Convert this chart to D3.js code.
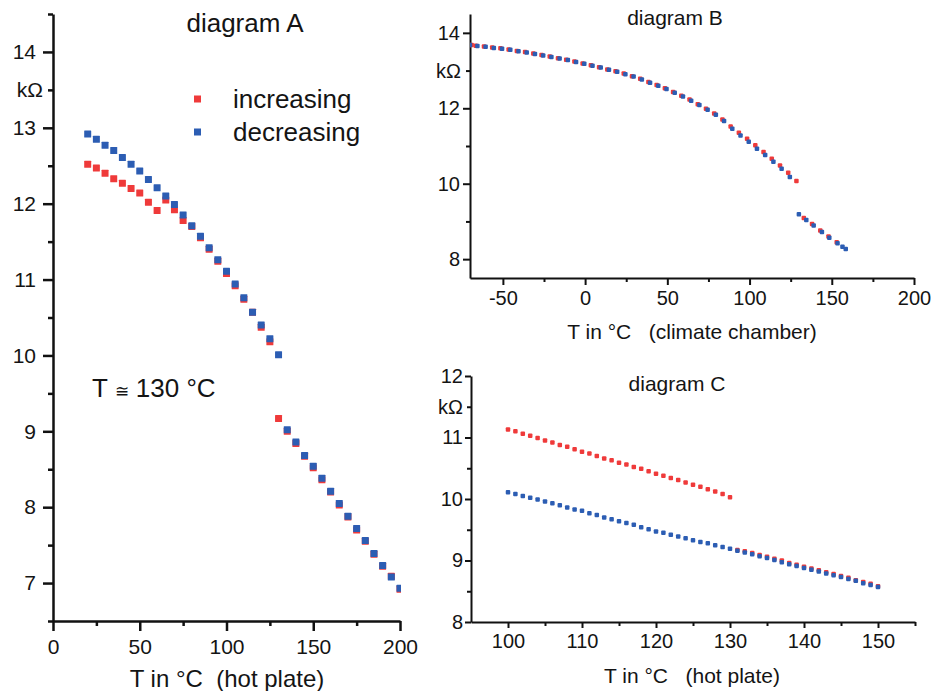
<!DOCTYPE html>
<html>
<head>
<meta charset="utf-8">
<script src="https://cdn.jsdelivr.net/npm/d3@7"></script>
<style>
  body { margin: 0; background: #fff; }
  svg { display: block; }
  text { font-family: "Liberation Sans", Arial, sans-serif; fill: #141414; }
</style>
</head>
<body>
<div id="chart"></div>
<script>
// ---- diagram A (hot plate, 5 K steps) ----
const aTemp = [20, 25, 30, 35, 40, 45, 50, 55, 60, 65, 70, 75, 80, 85, 90, 95, 100, 105, 110, 115, 120, 125,
    130, 135, 140, 145, 150, 155, 160, 165, 170, 175, 180, 185, 190, 195, 200]
const aInc = [12.52, 12.47, 12.40, 12.33, 12.27, 12.20, 12.14, 12.02, 11.91, 12.05, 11.92, 11.78, 11.70, 11.55,
    11.40, 11.24, 11.08, 10.92, 10.74, 10.57, 10.37, 10.18,
    9.17, 9.00, 8.84, 8.67, 8.52, 8.36, 8.20, 8.03, 7.87, 7.70, 7.55, 7.38, 7.22, 7.09, 6.92]
const aDec = [12.92, 12.85, 12.77, 12.70, 12.61, 12.52, 12.43, 12.32, 12.21, 12.10, 11.99, 11.85, 11.71, 11.57,
    11.42, 11.26, 11.11, 10.94, 10.76, 10.57, 10.40, 10.22,
    10.01, 9.02, 8.86, 8.68, 8.54, 8.38, 8.21, 8.05, 7.88, 7.72, 7.56, 7.39, 7.23, 7.08, 6.93]

// ---- diagram B (climate chamber) ----
const bIncT = [-69, -66.5, -61.5, -56.5, -51.5, -46.5, -41.5, -36.5, -31.5, -26.5, -21.5, -16.5, -11.5, -6.5, -1.5,
    3.5, 8.5, 13.5, 18.5, 23.5, 28.5, 33.5, 38.5, 43.5, 48.5, 53.5, 58.5, 63.5, 68.5, 73.5, 78.5, 83.5, 88.5,
    93.5, 98.5, 103.5, 108.5, 113.5, 118.5, 123.5, 128.5,
    133, 138, 143, 148, 153]
const bIncR = [13.68, 13.66, 13.64, 13.61, 13.59, 13.56, 13.52, 13.49, 13.45, 13.41, 13.37, 13.33, 13.29, 13.24, 13.19,
    13.14, 13.09, 13.03, 12.98, 12.92, 12.85, 12.78, 12.70, 12.62, 12.53, 12.43, 12.33, 12.23, 12.11, 11.99, 11.86, 11.70, 11.52,
    11.35, 11.19, 11.02, 10.84, 10.66, 10.48, 10.29, 10.07,
    9.09, 8.93, 8.76, 8.60, 8.45]
const bDecT = [-70, -65.5, -60.5, -55.5, -50.5, -45.5, -40.5, -35.5, -30.5, -25.5, -20.5, -15.5, -10.5, -5.5, -0.5,
    4.5, 9.5, 14.5, 19.5, 24.5, 29.5, 34.5, 39.5, 44.5, 49.5, 54.5, 59.5, 64.5, 69.5, 74.5, 79.5, 84.5, 89.5,
    94.5, 99.5, 104.5, 109.5, 114.5, 119.5, 124.5,
    130, 134.5, 139, 144, 148.5, 153.5, 156.5, 158.5]
const bDecR = [13.68, 13.65, 13.63, 13.60, 13.58, 13.55, 13.51, 13.48, 13.44, 13.40, 13.36, 13.32, 13.28, 13.23, 13.18,
    13.13, 13.08, 13.02, 12.97, 12.90, 12.84, 12.76, 12.68, 12.60, 12.51, 12.41, 12.31, 12.20, 12.09, 11.96, 11.83, 11.66, 11.46,
    11.28, 11.11, 10.93, 10.76, 10.58, 10.40, 10.18,
    9.19, 9.04, 8.89, 8.72, 8.57, 8.42, 8.33, 8.27]

// ---- diagram C (hot plate, 1 K steps) ----
const cIncT = [100, 101, 102, 103, 104, 105, 106, 107, 108, 109, 110, 111, 112, 113, 114, 115, 116, 117, 118, 119, 120,
    121, 122, 123, 124, 125, 126, 127, 128, 129, 130,
    131, 132, 133, 134, 135, 136, 137, 138, 139, 140, 141, 142, 143, 144, 145, 146, 147, 148, 149, 150]
const cIncR = [11.13, 11.10, 11.06, 11.03, 10.99, 10.95, 10.92, 10.88, 10.85, 10.81, 10.77, 10.74, 10.70, 10.66, 10.63,
    10.59, 10.56, 10.52, 10.49, 10.45, 10.41, 10.38, 10.34, 10.31, 10.27, 10.23, 10.20, 10.16, 10.12, 10.08, 10.03,
    9.17, 9.15, 9.12, 9.09, 9.06, 9.03, 9.00, 8.96, 8.93, 8.90, 8.87, 8.84, 8.81, 8.78, 8.75, 8.72, 8.68, 8.65, 8.62, 8.58]
const cDecT = [100, 101, 102, 103, 104, 105, 106, 107, 108, 109, 110, 111, 112, 113, 114, 115, 116, 117, 118, 119, 120,
    121, 122, 123, 124, 125, 126, 127, 128, 129, 130, 131, 132, 133, 134, 135, 136, 137, 138, 139, 140,
    141, 142, 143, 144, 145, 146, 147, 148, 149, 150]
const cDecR = [10.11, 10.08, 10.05, 10.02, 9.99, 9.96, 9.93, 9.90, 9.86, 9.83, 9.81, 9.77, 9.74, 9.70, 9.67, 9.64,
    9.61, 9.58, 9.54, 9.51, 9.47, 9.45, 9.42, 9.39, 9.36, 9.33, 9.30, 9.28, 9.25, 9.22, 9.19, 9.16, 9.13, 9.10,
    9.07, 9.04, 9.01, 8.97, 8.94, 8.91, 8.88, 8.85, 8.82, 8.79, 8.76, 8.73, 8.70, 8.67, 8.63, 8.60, 8.57]

const red = "#ef3a3a"
const blue = "#2c5db3"

const w = 936
const h = 691

const svg = d3.select("#chart")
    .append("svg")
    .attr("width", w)
    .attr("height", h)

// plain integers with an ASCII hyphen, as on the original
const fmt = d => String(d)

function panel(o) {
    const x = d3.scaleLinear().domain(o.xDom).range(o.xRange)
    const y = d3.scaleLinear().domain(o.yDom).range(o.yRange)
    const g = svg.append("g")

    // minor ticks first (no labels, no domain line)
    const xm = g.append("g")
        .attr("transform", `translate(0,${o.yRange[0]})`)
        .call(d3.axisBottom(x).tickValues(o.xMinor).tickSize(o.minor).tickFormat(""))
    const ym = g.append("g")
        .attr("transform", `translate(${o.xRange[0]},0)`)
        .call(d3.axisLeft(y).tickValues(o.yMinor).tickSize(o.minor).tickFormat(""))
    xm.select(".domain").remove()
    ym.select(".domain").remove()

    g.append("g")
        .attr("transform", `translate(0,${o.yRange[0]})`)
        .call(d3.axisBottom(x).tickValues(o.xTicks).tickFormat(fmt)
            .tickSize(o.major).tickSizeOuter(0).tickPadding(o.xPad))
    g.append("g")
        .attr("transform", `translate(${o.xRange[0]},0)`)
        .call(d3.axisLeft(y).tickValues(o.yTicks).tickFormat(fmt)
            .tickSize(o.major).tickSizeOuter(0).tickPadding(o.yPad))

    g.selectAll(".domain, .tick line")
        .attr("stroke", "#111")
        .attr("stroke-width", o.sw)
    g.selectAll(".tick text")
        .style("font-family", "'Liberation Sans', Arial, sans-serif")
        .style("font-size", o.font + "px")
        .attr("fill", "#141414")

    const clipId = "clip" + o.name
    svg.append("clipPath").attr("id", clipId)
        .append("rect")
        .attr("x", o.xRange[0])
        .attr("y", o.yRange[1] - 10)
        .attr("width", o.xRange[1] - o.xRange[0] + 1)
        .attr("height", o.yRange[0] - o.yRange[1] + 10)

    const plot = g.append("g").attr("clip-path", `url(#${clipId})`)
    const s = o.size
    o.series.forEach(ser => {
        plot.append("g")
            .selectAll("rect")
            .data(ser.t)
            .enter()
            .append("rect")
            .attr("x", d => x(d) - s / 2)
            .attr("y", (d, i) => y(ser.r[i]) - s / 2)
            .attr("width", s)
            .attr("height", s)
            .attr("rx", o.rx)
            .attr("fill", ser.color)
    })

    // kΩ unit label sits next to a minor tick
    g.append("text")
        .attr("x", o.unitX)
        .attr("y", y(o.unitAt))
        .attr("dy", "0.35em")
        .attr("text-anchor", "end")
        .style("font-size", o.font + "px")
        .text("kΩ")

    g.append("text")
        .attr("x", o.titleX)
        .attr("y", o.titleY)
        .attr("text-anchor", "middle")
        .style("font-size", o.titleFont + "px")
        .text(o.title)

    g.append("text")
        .attr("x", o.labelX)
        .attr("y", o.labelY)
        .attr("text-anchor", "middle")
        .style("font-size", o.labelFont + "px")
        .style("white-space", "pre")
        .text(o.label)

    return { x, y, g }
}

const A = panel({
    name: "A",
    xDom: [0, 200], xRange: [53, 400],
    yDom: [6.5, 14.5], yRange: [621, 14],
    xTicks: [0, 50, 100, 150, 200], xMinor: [25, 75, 125, 175],
    yTicks: [7, 8, 9, 10, 11, 12, 13, 14], yMinor: [6.5, 7.5, 8.5, 9.5, 10.5, 11.5, 12.5, 13.5, 14.5],
    major: 10, minor: 5, xPad: 8, yPad: 7, sw: 2.5, font: 21,
    size: 7, rx: 0.5,
    series: [{ t: aTemp, r: aInc, color: red }, { t: aTemp, r: aDec, color: blue }],
    unitX: 43, unitAt: 13.5,
    title: "diagram A", titleX: 245, titleY: 32, titleFont: 26,
    label: "T in °C  (hot plate)", labelX: 227, labelY: 687, labelFont: 24
})

const B = panel({
    name: "B",
    xDom: [-70, 200], xRange: [470, 914],
    yDom: [7.5, 14.5], yRange: [278, 14],
    xTicks: [-50, 0, 50, 100, 150, 200], xMinor: [-25, 25, 75, 125, 175],
    yTicks: [8, 10, 12, 14], yMinor: [9, 11, 13],
    major: 7, minor: 4, xPad: 6, yPad: 3, sw: 2, font: 20,
    size: 4.5, rx: 1,
    series: [{ t: bIncT, r: bIncR, color: red }, { t: bDecT, r: bDecR, color: blue }],
    unitX: 461, unitAt: 13,
    title: "diagram B", titleX: 675, titleY: 25, titleFont: 21,
    label: "T in °C   (climate chamber)", labelX: 692, labelY: 339, labelFont: 21
})

const C = panel({
    name: "C",
    xDom: [95, 155], xRange: [471, 915],
    yDom: [8, 12], yRange: [622, 376],
    xTicks: [100, 110, 120, 130, 140, 150], xMinor: [105, 115, 125, 135, 145, 155],
    yTicks: [8, 9, 10, 11, 12], yMinor: [8.5, 9.5, 10.5, 11.5],
    major: 6, minor: 4, xPad: 6, yPad: 2, sw: 2, font: 20,
    size: 4.5, rx: 1,
    series: [{ t: cIncT, r: cIncR, color: red }, { t: cDecT, r: cDecR, color: blue }],
    unitX: 463, unitAt: 11.5,
    title: "diagram C", titleX: 677, titleY: 391, titleFont: 21,
    label: "T in °C   (hot plate)", labelX: 692, labelY: 683, labelFont: 21
})

// legend of diagram A
const legend = [{ name: "increasing", color: red, y: 99 }, { name: "decreasing", color: blue, y: 132 }]
const lg = svg.append("g")
lg.selectAll("rect")
    .data(legend)
    .enter()
    .append("rect")
    .attr("x", 194)
    .attr("y", d => d.y - 3.5)
    .attr("width", 7)
    .attr("height", 7)
    .attr("fill", d => d.color)
lg.selectAll("text")
    .data(legend)
    .enter()
    .append("text")
    .attr("x", 233)
    .attr("y", d => d.y)
    .attr("dy", "0.33em")
    .style("font-size", "26px")
    .text(d => d.name)

// annotation of the jump
const ann = svg.append("text")
    .attr("x", 92)
    .attr("y", 397)
    .style("font-size", "26px")
ann.append("tspan").text("T ")
ann.append("tspan").style("font-size", "17px").text("≅")
ann.append("tspan").text(" 130 °C")
</script>
</body>
</html>
